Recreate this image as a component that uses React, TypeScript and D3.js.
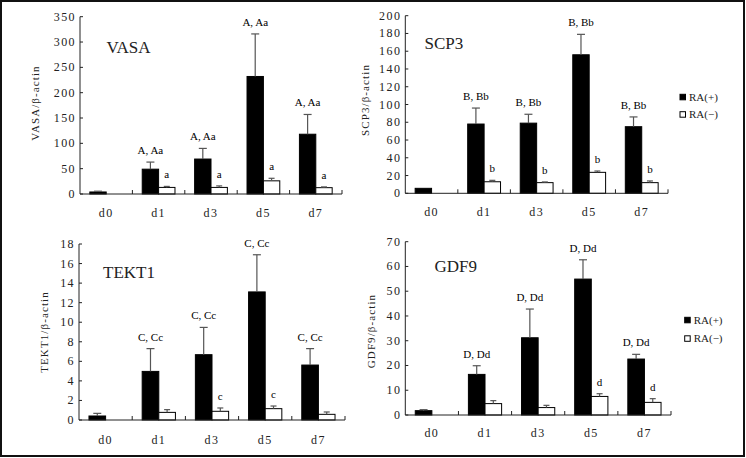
import React from 'react';
import * as d3 from 'd3';

const days = ['d0', 'd1', 'd3', 'd5', 'd7'];
const seriesKeys = ['plus', 'minus'];
const legendLabels = ['RA(+)', 'RA(−)'];

const vasaPlus = [4, 49, 69, 232, 118];
const vasaPlusSD = [1.5, 14, 21, 84, 39];
const vasaMinus = [null, 13, 13, 26, 12.5];
const vasaMinusSD = [0, 2, 3, 5, 1.5];
const vasaPlusLbl = ['', 'A, Aa', 'A, Aa', 'A, Aa', 'A, Aa'];
const vasaMinusLbl = ['', 'a', 'a', 'a', 'a'];

const scp3Plus = [5.6, 78, 79, 156, 75];
const scp3PlusSD = [0, 18, 10, 23, 11];
const scp3Minus = [null, 13, 12, 23.6, 12];
const scp3MinusSD = [0, 1.6, 0.8, 1.5, 1.9];
const scp3PlusLbl = ['', 'B, Bb', 'B, Bb', 'B, Bb', 'B, Bb'];
const scp3MinusLbl = ['', 'b', 'b', 'b', 'b'];

const tekt1Plus = [0.41, 4.97, 6.68, 13.1, 5.62];
const tekt1PlusSD = [0.27, 2.33, 2.79, 3.8, 1.68];
const tekt1Minus = [null, 0.78, 0.89, 1.16, 0.58];
const tekt1MinusSD = [0, 0.28, 0.34, 0.27, 0.24];
const tekt1PlusLbl = ['', 'C, Cc', 'C, Cc', 'C, Cc', 'C, Cc'];
const tekt1MinusLbl = ['', '', 'c', 'c', ''];

const gdf9Plus = [1.75, 16.4, 31.2, 54.9, 22.6];
const gdf9PlusSD = [0.4, 3.5, 11.6, 7.8, 1.9];
const gdf9Minus = [null, 4.6, 3.0, 7.5, 5.1];
const gdf9MinusSD = [0, 1.2, 0.9, 1.1, 1.5];
const gdf9PlusLbl = ['', 'D, Dd', 'D, Dd', 'D, Dd', 'D, Dd'];
const gdf9MinusLbl = ['', '', '', 'd', 'd'];

const FONT = '"Liberation Serif", "Times New Roman", serif';

type Layout = {
  x0: number; x1: number; yb: number; yt: number; max: number; step: number;
  titleX: number; titleY: number; ylx: number; yly: number; catY: number;
  legend?: { x: number; y: number; gap: number };
};

type PanelData = {
  gene: string;
  plus: number[]; plusSD: number[]; minus: (number | null)[]; minusSD: number[];
  plusLbl: string[]; minusLbl: string[];
};

const panels: { d: PanelData; l: Layout }[] = [
  {
    d: { gene: 'VASA', plus: vasaPlus, plusSD: vasaPlusSD, minus: vasaMinus, minusSD: vasaMinusSD, plusLbl: vasaPlusLbl, minusLbl: vasaMinusLbl },
    l: { x0: 80, x1: 342, yb: 194, yt: 16.7, max: 350, step: 50, titleX: 106.5, titleY: 53, ylx: 35, yly: 103, catY: 217 },
  },
  {
    d: { gene: 'SCP3', plus: scp3Plus, plusSD: scp3PlusSD, minus: scp3Minus, minusSD: scp3MinusSD, plusLbl: scp3PlusLbl, minusLbl: scp3MinusLbl },
    l: { x0: 405.3, x1: 668, yb: 193.3, yt: 15.7, max: 200, step: 20, titleX: 424.5, titleY: 49, ylx: 365, yly: 100, catY: 216, legend: { x: 680, y: 94.3, gap: 17.4 } },
  },
  {
    d: { gene: 'TEKT1', plus: tekt1Plus, plusSD: tekt1PlusSD, minus: tekt1Minus, minusSD: tekt1MinusSD, plusLbl: tekt1PlusLbl, minusLbl: tekt1MinusLbl },
    l: { x0: 79, x1: 345, yb: 420, yt: 244, max: 18, step: 2, titleX: 103, titleY: 278, ylx: 44, yly: 332, catY: 444 },
  },
  {
    d: { gene: 'GDF9', plus: gdf9Plus, plusSD: gdf9PlusSD, minus: gdf9Minus, minusSD: gdf9MinusSD, plusLbl: gdf9PlusLbl, minusLbl: gdf9MinusLbl },
    l: { x0: 405.3, x1: 671, yb: 415, yt: 241.7, max: 70, step: 10, titleX: 434.5, titleY: 272, ylx: 371, yly: 331, catY: 437, legend: { x: 684.7, y: 317.3, gap: 18.5 } },
  },
];

function Panel({ d, l }: { d: PanelData; l: Layout }) {
  const x = d3.scaleBand<string>().domain(days).range([l.x0, l.x1]).padding(0);
  const sub = d3.scaleBand<string>().domain(seriesKeys).range([0, x.bandwidth()]).paddingInner(0).paddingOuter(0.6);
  const y = d3.scaleLinear().domain([0, l.max]).range([l.yb, l.yt]);
  const ticks = d3.range(0, l.max + l.step / 2, l.step);
  const bw = sub.bandwidth();
  const axisColor = '#222';
  const errColor = '#555';

  const series = [
    { key: 'plus', vals: d.plus as (number | null)[], sds: d.plusSD, lbls: d.plusLbl, fill: '#000', cap: 8 },
    { key: 'minus', vals: d.minus, sds: d.minusSD, lbls: d.minusLbl, fill: '#fff', cap: 6 },
  ];

  return (
    <g>
      {/* bars */}
      {series.map((s) =>
        days.map((day, i) => {
          const v = s.vals[i];
          if (v == null) return null;
          const bx = (x(day) as number) + (sub(s.key) as number);
          const top = y(v);
          const errTop = y(v + s.sds[i]);
          const cx = bx + bw / 2;
          return (
            <g key={s.key + day}>
              <rect x={bx} y={top} width={bw} height={l.yb - top} fill={s.fill} stroke="#000" strokeWidth={1} />
              {s.sds[i] > 0 && (
                <g stroke={errColor} strokeWidth={1.2}>
                  <line x1={cx} x2={cx} y1={top} y2={errTop} />
                  <line x1={cx - s.cap / 2} x2={cx + s.cap / 2} y1={errTop} y2={errTop} />
                </g>
              )}
              {s.lbls[i] && (
                <text x={cx} y={errTop - 8} textAnchor="middle" fontFamily={FONT} fontSize={11} fill="#000">
                  {s.lbls[i]}
                </text>
              )}
            </g>
          );
        })
      )}
      {/* y axis */}
      <line x1={l.x0} x2={l.x0} y1={l.yb} y2={l.yt} stroke={axisColor} strokeWidth={1} />
      {ticks.map((t) => (
        <g key={t}>
          <line x1={l.x0} x2={l.x0 + 3} y1={y(t)} y2={y(t)} stroke={axisColor} />
          <text x={l.x0 - 4} y={y(t) + 4} textAnchor="end" fontFamily={FONT} fontSize={12} letterSpacing={1.4} fill="#222">
            {t}
          </text>
        </g>
      ))}
      {/* x axis */}
      <line x1={l.x0} x2={l.x1} y1={l.yb} y2={l.yb} stroke={axisColor} strokeWidth={1} />
      {days.slice(1).map((day) => (
        <line key={day} x1={x(day)} x2={x(day)} y1={l.yb} y2={l.yb - 4} stroke={axisColor} />
      ))}
      <line x1={l.x1} x2={l.x1} y1={l.yb} y2={l.yb - 4} stroke={axisColor} />
      {days.map((day) => (
        <text key={day} x={(x(day) as number) + x.bandwidth() / 2} y={l.catY} textAnchor="middle" fontFamily={FONT} fontSize={12} letterSpacing={1.4} fill="#222">
          {day}
        </text>
      ))}
      {/* title */}
      <text x={l.titleX} y={l.titleY} fontFamily={FONT} fontSize={17} fill="#222">
        {d.gene}
      </text>
      {/* y label */}
      <text
        transform={`translate(${l.ylx},${l.yly}) rotate(-90)`}
        textAnchor="middle"
        dy="0.35em"
        fontFamily={FONT}
        fontSize={11}
        letterSpacing={1.1}
        fill="#222"
      >
        {d.gene + '/β-actin'}
      </text>
      {l.legend && (
        <g>
          {legendLabels.map((lab, i) => (
            <g key={lab}>
              <rect x={l.legend!.x} y={l.legend!.y + i * l.legend!.gap} width={5.5} height={5.5} fill={i === 0 ? '#000' : '#fff'} stroke="#000" strokeWidth={1} />
              <text x={l.legend!.x + 9} y={l.legend!.y + i * l.legend!.gap + 6.5} fontFamily={FONT} fontSize={11} fill="#222">
                {lab}
              </text>
            </g>
          ))}
        </g>
      )}
    </g>
  );
}

export default function App() {
  return (
    <svg width={746} height={458} style={{ position: 'absolute', left: 0, top: 0, background: '#fff' }}>
      <rect x={0} y={0} width={746} height={458} fill="#fff" />
      {panels.map((p) => (
        <Panel key={p.d.gene} d={p.d} l={p.l} />
      ))}
      <rect x={1} y={1} width={743} height={455} fill="none" stroke="#111" strokeWidth={2} />
    </svg>
  );
}
